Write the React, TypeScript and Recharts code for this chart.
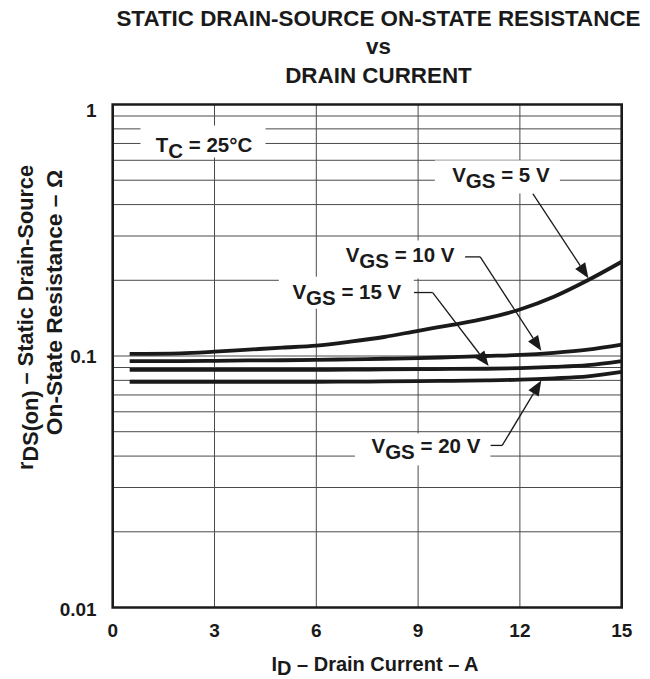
import React from 'react';
import {
  LineChart,
  Line,
  XAxis,
  YAxis,
  CartesianGrid,
  ReferenceArea,
  ReferenceLine,
  ReferenceDot,
} from 'recharts';

// ---- data ----
const drainCurrent = [0.5, 2, 3, 4, 5, 6, 7, 8, 9, 10, 11, 12, 13, 14, 15];
const rdsVgs5 = [0.102, 0.1025, 0.104, 0.106, 0.108, 0.11, 0.114, 0.119, 0.126, 0.133, 0.141, 0.153, 0.172, 0.2, 0.237];
const rdsVgs10 = [0.0955, 0.0955, 0.0957, 0.096, 0.0962, 0.0965, 0.097, 0.0975, 0.098, 0.099, 0.1, 0.101, 0.103, 0.106, 0.111];
const rdsVgs15 = [0.088, 0.088, 0.088, 0.088, 0.088, 0.0881, 0.0882, 0.0884, 0.0886, 0.0888, 0.089, 0.0895, 0.0905, 0.092, 0.0955];
const rdsVgs20 = [0.079, 0.079, 0.079, 0.079, 0.079, 0.079, 0.0791, 0.0792, 0.0794, 0.0797, 0.08, 0.0805, 0.0815, 0.083, 0.0865];

const xTicks = [0, 3, 6, 9, 12, 15];
const yGridTicks = [
  0.01, 0.02, 0.03, 0.04, 0.05, 0.06, 0.07, 0.08, 0.09,
  0.1, 0.2, 0.3, 0.4, 0.5, 0.6, 0.7, 0.8, 0.9, 1,
];
const yTickLabels: Record<string, string> = { '0.01': '0.01', '0.1': '0.1', '1': '1' };

const titleLines = ['STATIC DRAIN-SOURCE ON-STATE RESISTANCE', 'vs', 'DRAIN CURRENT'];

// annotation text labels (anchor = text centre / baseline in data units)
const labels = [
  { x: 2.69, y: 0.65, main: 'T', sub: 'C', rest: ' = 25°C', left: 63.5, right: 61.5, top: 26, bottom: 6 },
  { x: 11.44, y: 0.49, main: 'V', sub: 'GS', rest: ' = 5 V', left: 66, right: 59, top: 22, bottom: 11 },
  { x: 8.47, y: 0.2354, main: 'V', sub: 'GS', rest: ' = 10 V', left: 58, right: 65, top: 22, bottom: 16 },
  { x: 6.9, y: 0.169, main: 'V', sub: 'GS', rest: ' = 15 V', left: 68, right: 67, top: 22, bottom: 10 },
  { x: 9.23, y: 0.041, main: 'V', sub: 'GS', rest: ' = 20 V', left: 71, right: 64.5, top: 20, bottom: 12 },
];

const leaderSegments = [
  [{ x: 10.38, y: 0.2478 }, { x: 10.83, y: 0.2478 }],
  [{ x: 8.88, y: 0.1788 }, { x: 9.43, y: 0.1788 }],
  [{ x: 11.13, y: 0.0441 }, { x: 11.48, y: 0.0441 }],
];
const arrowSegments = [
  [{ x: 12.38, y: 0.4421 }, { x: 14.02, y: 0.204 }],
  [{ x: 10.83, y: 0.2478 }, { x: 12.63, y: 0.1049 }],
  [{ x: 9.43, y: 0.1788 }, { x: 11.08, y: 0.0913 }],
  [{ x: 11.48, y: 0.0441 }, { x: 12.63, y: 0.0799 }],
];

const chartData = drainCurrent.map((x, i) => ({
  x,
  v5: rdsVgs5[i],
  v10: rdsVgs10[i],
  v15: rdsVgs15[i],
  v20: rdsVgs20[i],
}));

const FONT = '"Liberation Sans", Arial, Helvetica, sans-serif';
const INK = '#1a1a1a';

const ArrowShape = (props: any) => {
  const { x1, y1, x2, y2 } = props;
  const ang = Math.atan2(y2 - y1, x2 - x1);
  const L = 15;
  const W = 6;
  const bx = x2 - L * Math.cos(ang);
  const by = y2 - L * Math.sin(ang);
  const p1 = `${bx - W * Math.sin(ang)},${by + W * Math.cos(ang)}`;
  const p2 = `${bx + W * Math.sin(ang)},${by - W * Math.cos(ang)}`;
  return (
    <g>
      <line x1={x1} y1={y1} x2={bx} y2={by} stroke={INK} strokeWidth={1.3} />
      <polygon points={`${x2},${y2} ${p1} ${p2}`} fill={INK} />
    </g>
  );
};

const PlainSegment = (props: any) => {
  const { x1, y1, x2, y2 } = props;
  return <line x1={x1} y1={y1} x2={x2} y2={y2} stroke={INK} strokeWidth={1.3} />;
};

const makeLabelShape = (l: (typeof labels)[number]) => (props: any) => {
  const { cx, cy } = props;
  return (
    <g>
      <rect x={cx - l.left} y={cy - l.top} width={l.left + l.right} height={l.top + l.bottom} fill="#fff" />
      <text
        x={cx}
        y={cy}
        textAnchor="middle"
        fontFamily={FONT}
        fontWeight={700}
        fontSize={20.5}
        fill={INK}
        style={{ whiteSpace: 'pre' }}
      >
        <tspan>{l.main}</tspan>
        <tspan dy={6}>{l.sub}</tspan>
        <tspan dy={-6}>{l.rest}</tspan>
      </text>
    </g>
  );
};

const YTick = (props: any) => {
  const { x, y, payload } = props;
  const lbl = yTickLabels[String(payload.value)];
  if (!lbl) return <g />;
  const shift = payload.value === 1 ? 6 : payload.value === 0.01 ? 2 : 0;
  return (
    <text x={x} y={y + shift} dy="0.355em" textAnchor="end" fontFamily={FONT} fontWeight={700} fontSize={19} fill={INK}>
      {lbl}
    </text>
  );
};

const XTick = (props: any) => {
  const { x, y, payload } = props;
  return (
    <text x={x} y={y} dy="0.71em" textAnchor="middle" fontFamily={FONT} fontWeight={700} fontSize={19} fill={INK}>
      {payload.value}
    </text>
  );
};

export default function App() {
  return (
    <div style={{ position: 'relative', width: 650, height: 679, background: '#fff' }}>
      <style>{'body{margin:0;background:#fff}'}</style>
      <LineChart
        width={650}
        height={679}
        data={chartData}
        margin={{ top: 104.5, right: 28.3, left: 0, bottom: 0 }}
      >
        <CartesianGrid stroke="#4a4a4a" strokeWidth={1} />
        <XAxis
          type="number"
          dataKey="x"
          domain={[0, 15]}
          ticks={xTicks}
          height={71.5}
          axisLine={false}
          tickLine={false}
          tickSize={0}
          tickMargin={16}
          tick={<XTick />}
          interval={0}
        />
        <YAxis
          scale="log"
          domain={[0.01, 1]}
          ticks={yGridTicks}
          allowDataOverflow
          width={112.7}
          axisLine={false}
          tickLine={false}
          tickSize={0}
          tickMargin={16}
          tick={<YTick />}
          interval={0}
        />
        {labels.map((l, i) => (
          <ReferenceDot key={`lbl${i}`} x={l.x} y={l.y} r={0} shape={makeLabelShape(l)} ifOverflow="visible" />
        ))}
        <Line type="monotone" dataKey="v5" stroke={INK} strokeWidth={3.8} dot={false} isAnimationActive={false} />
        <Line type="monotone" dataKey="v10" stroke={INK} strokeWidth={3.8} dot={false} isAnimationActive={false} />
        <Line type="monotone" dataKey="v15" stroke={INK} strokeWidth={3.8} dot={false} isAnimationActive={false} />
        <Line type="monotone" dataKey="v20" stroke={INK} strokeWidth={3.8} dot={false} isAnimationActive={false} />
        {leaderSegments.map((s, i) => (
          <ReferenceLine key={`ld${i}`} segment={s} shape={PlainSegment} ifOverflow="visible" />
        ))}
        {arrowSegments.map((s, i) => (
          <ReferenceLine key={`ar${i}`} segment={s} shape={ArrowShape} ifOverflow="visible" />
        ))}
        <ReferenceArea x1={0} x2={15} y1={0.01} y2={1} fill="none" stroke={INK} strokeWidth={2.6} ifOverflow="visible" />
      </LineChart>
      <svg
        width={650}
        height={679}
        style={{ position: 'absolute', left: 0, top: 0, pointerEvents: 'none' }}
      >
        <g fontFamily={FONT} fontWeight={700} fill={INK} textAnchor="middle">
          <text x={378.5} y={26} fontSize={22.4}>{titleLines[0]}</text>
          <text x={378.5} y={53.5} fontSize={22.4}>{titleLines[1]}</text>
          <text x={378.5} y={83} fontSize={22.4}>{titleLines[2]}</text>
          <text x={375} y={671} fontSize={20} style={{ whiteSpace: 'pre' }}>
            <tspan>I</tspan>
            <tspan dy={4}>D</tspan>
            <tspan dy={-4}>{' – Drain Current – A'}</tspan>
          </text>
          <text x={33} y={317.5} fontSize={21.7} transform="rotate(-90 33 317.5)" style={{ whiteSpace: 'pre' }}>
            <tspan>r</tspan>
            <tspan dy={5}>DS(on)</tspan>
            <tspan dy={-5}>{' – Static Drain-Source'}</tspan>
          </text>
          <text x={62} y={302.5} fontSize={22.8} transform="rotate(-90 62 302.5)" style={{ whiteSpace: 'pre' }}>
            {'On-State Resistance – Ω'}
          </text>
        </g>
      </svg>
    </div>
  );
}
